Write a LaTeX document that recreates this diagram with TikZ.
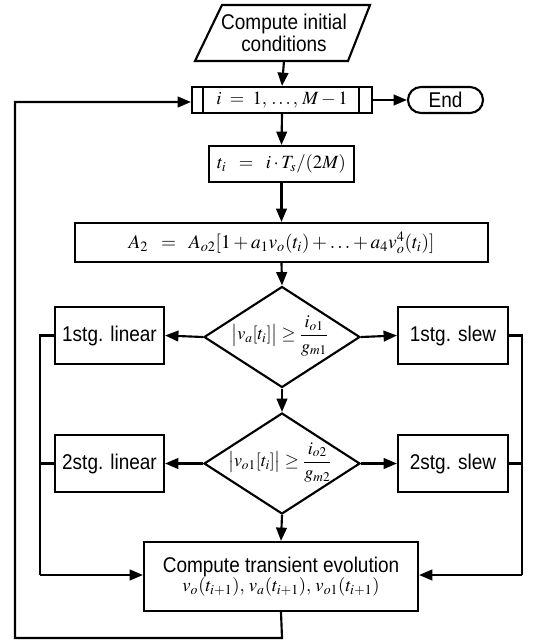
\documentclass[tikz,border=0pt]{standalone}
\usepackage{amsmath}
\usepackage{mathptmx}
\usepackage[no-math]{fontspec}
\newfontfamily\arial[FakeStretch=0.89]{Liberation Sans}
\usetikzlibrary{shapes.geometric,arrows.meta}
\tikzset{
  px/.style={x=0.75pt,y=-0.75pt},
  ln/.style={line width=1.6pt},
  arr/.style={ln,-{Triangle[length=10pt,width=8pt]}},
  box/.style={draw,ln,rectangle,inner sep=0pt},
  stxt/.style={font=\arial\fontsize{16}{17}\selectfont,align=center},
  mtxt/.style={font=\fontsize{14}{16}\selectfont},
  dtxt/.style={font=\fontsize{13.5}{15}\selectfont},
  dia/.style={draw,ln,diamond,inner sep=0pt,minimum width=117pt,minimum height=75.75pt},
}
\begin{document}
\begin{tikzpicture}[px]
\useasboundingbox (0,0) rectangle (533,640);
% initial conditions (parallelogram)
\draw[ln,line join=miter] (222,5) -- (370,5) -- (348,61) -- (195,61) -- cycle;
\node[stxt,inner sep=0pt,minimum width=100pt,minimum height=42pt] (init) at (284,33) {Compute initial\\conditions};
% loop box
\node[box,minimum width=135pt,minimum height=19.5pt,mtxt] (loop) at (282,100) {$i\;=\;1,\,\ldots,\,M-1$};
\draw[ln] ([xshift=9pt]loop.north west) -- ([xshift=9pt]loop.south west);
\draw[ln] ([xshift=-10.5pt]loop.north east) -- ([xshift=-10.5pt]loop.south east);
% end
\node[box,rounded corners=9.75pt,minimum width=56.25pt,minimum height=19.5pt,stxt] (end) at (445.5,100) {End};
% ti
\node[box,minimum width=108.75pt,minimum height=27pt,mtxt] (ti) at (281.5,164) {$t_i\;\;=\;\;i\cdot T_s/(2M)$};
% A2
\node[box,minimum width=309.75pt,minimum height=29.25pt,font=\fontsize{14.5}{16}\selectfont] (A2) at (281.5,242.5) {$A_2\;\;=\;\;A_{o2}[1+a_1v_o(t_i)+\ldots+a_4v_o^4(t_i)]$};
% diamond 1
\node[dia] (d1) at (282,337) {};
\node[dtxt] at (280,336) {$\bigl|v_a[t_i]\bigr|\geq\dfrac{i_{o1}}{g_{m1}}$};
\node[box,minimum width=81.75pt,minimum height=42.75pt,stxt] (lin1) at (109.5,335.5) {1stg. linear};
\node[box,minimum width=82.5pt,minimum height=42.75pt,stxt] (slew1) at (453,335.5) {1stg. slew};
% diamond 2
\node[dia] (d2) at (282,463.5) {};
\node[dtxt] at (280,462.5) {$\bigl|v_{o1}[t_i]\bigr|\geq\dfrac{i_{o2}}{g_{m2}}$};
\node[box,minimum width=81.75pt,minimum height=42.75pt,stxt] (lin2) at (109.5,463.5) {2stg. linear};
\node[box,minimum width=82.5pt,minimum height=42.75pt,stxt] (slew2) at (453,463.5) {2stg. slew};
% compute
\node[box,minimum width=205.5pt,minimum height=51.75pt,align=center] (comp) at (281,576.5)
  {{\arial\fontsize{16}{17}\selectfont Compute transient evolution}\\[0pt]
   {\fontsize{14}{16}\selectfont $v_o(t_{i+1}),\,v_a(t_{i+1}),\,v_{o1}(t_{i+1})$}};
% coordinates
\coordinate (cl) at (40,575);
\coordinate (cr) at (522,575);
\coordinate (b1) at (282,638);
\coordinate (b2) at (15,638);
\coordinate (b3) at (15,102);
% connectors
\draw[arr] (init.south |- 0,61) -- (loop.north);
\draw[arr] (loop) -- (end);
\draw[arr] (loop.south) -- (ti.north);
\draw[arr] (ti.south) -- (A2.north);
\draw[arr] (A2.south) -- (d1.north);
\draw[arr] (d1.west) -- (lin1.east);
\draw[arr] (d1.east) -- (slew1.west);
\draw[arr] (d1.south) -- (d2.north);
\draw[arr] (d2.west) -- (lin2.east);
\draw[arr] (d2.east) -- (slew2.west);
\draw[arr] (d2.south) -- (comp.north);
\draw[ln] (lin1.west) -| (cl);
\draw[ln] (lin2.west) -- (lin2.west -| cl);
\draw[arr] (cl) -- (comp.west |- cl);
\draw[ln] (slew1.east) -| (cr);
\draw[ln] (slew2.east) -- (slew2.east -| cr);
\draw[arr] (cr) -- (comp.east |- cr);
\draw[arr] (comp.south) -- (b1) -- (b2) -- (b3) -- (loop.west |- b3);
\end{tikzpicture}
\end{document}
